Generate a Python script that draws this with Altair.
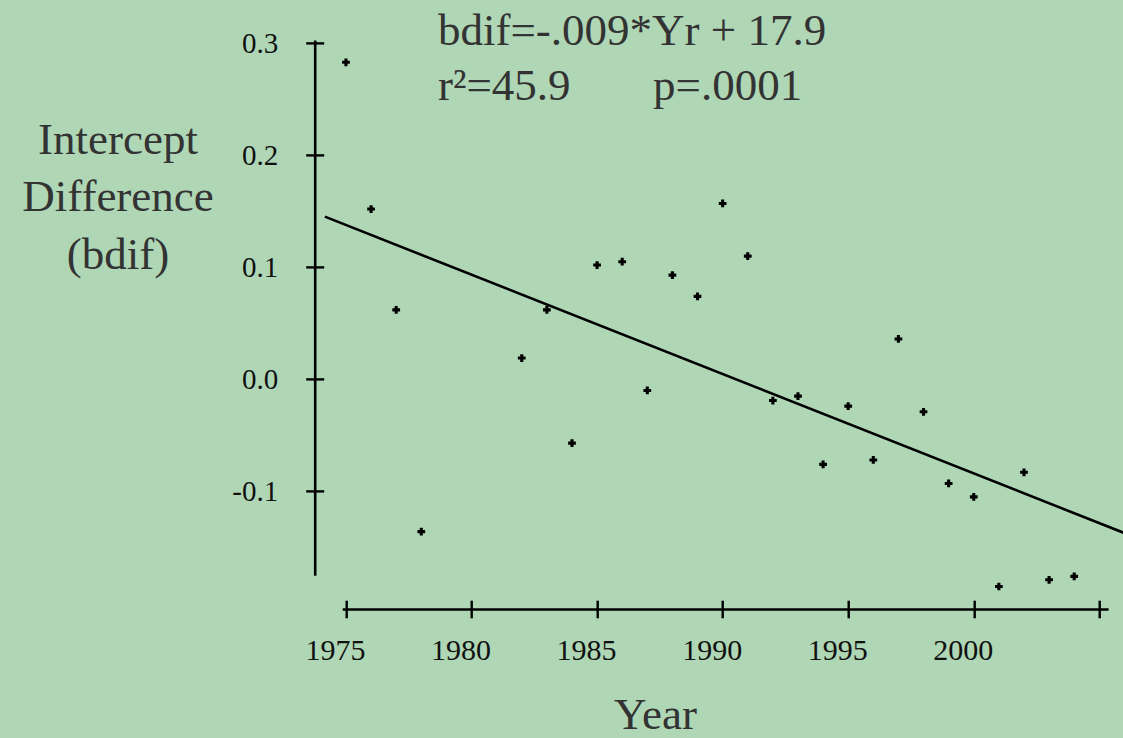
import altair as alt
import pandas as pd

# ---- data ----
years = [1975, 1976, 1977, 1978, 1982, 1983, 1984, 1985, 1986, 1987, 1988, 1989,
         1990, 1991, 1992, 1993, 1994, 1995, 1996, 1997, 1998, 1999, 2000, 2001,
         2002, 2003, 2004]
bdif = [0.283, 0.152, 0.062, -0.136, 0.019, 0.062, -0.057, 0.102, 0.105, -0.010,
        0.093, 0.074, 0.157, 0.110, -0.019, -0.015, -0.076, -0.024, -0.072, 0.036,
        -0.029, -0.093, -0.105, -0.185, -0.083, -0.179, -0.176]

fit_years = [1974.16, 2006.0]
fit_values = [0.1452, -0.1373]

x_ticks = [1975, 1980, 1985, 1990, 1995, 2000, 2005]
y_ticks = [-0.1, 0.0, 0.1, 0.2, 0.3]

eq_text = "bdif=-.009*Yr + 17.9"
r2_text = "r\u00b2=45.9"
p_text = "p=.0001"
y_title = ["Intercept", "Difference", "(bdif)"]
x_title = "Year"

# ---- layout ----
W, H = 765.9, 535.4
LEFT, TOP = 342.2, 39.9
FONT = "Liberation Serif"
BIG = 45

pts = pd.DataFrame({"year": years, "bdif": bdif})
fit = pd.DataFrame({"year": fit_years, "bdif": fit_values})

xscale = alt.Scale(domain=[1974.85, 2005.35], nice=False, zero=False)
yscale = alt.Scale(domain=[-0.175, 0.303], nice=False, zero=False)

points = alt.Chart(pts).mark_point(
    shape="cross", filled=True, size=60, color="black", opacity=1, clip=False
).encode(
    x=alt.X("year:Q", scale=xscale, axis=alt.Axis(
        orient="bottom", offset=24.9, domain=False, grid=False,
        values=x_ticks, tickSize=17.6, tickWidth=2.4, tickColor="black",
        labelExpr="datum.value == 2005 ? '' : format(datum.value, 'd')",
        labelFont=FONT, labelFontSize=30, labelColor="#111111",
        labelOffset=-11, labelPadding=18, labelFlush=False, labelOverlap=False,
        title=None)),
    y=alt.Y("bdif:Q", scale=yscale, axis=alt.Axis(
        orient="left", offset=18.5, domain=False, grid=False,
        values=y_ticks, tickSize=18, tickWidth=2.4, tickColor="black",
        labelExpr="datum.value < 0 ? '-' + format(-datum.value, '.1f') : format(datum.value, '.1f')",
        labelFont=FONT, labelFontSize=29, labelColor="#111111",
        labelPadding=28, labelFlush=False, labelOverlap=False,
        title=y_title, titleAngle=0, titleAlign="center", titleBaseline="alphabetic",
        titleX=-206.2, titleY=113.4, titleLineHeight=57.5,
        titleFont=FONT, titleFontSize=BIG, titleFontWeight="normal", titleColor="#333333")),
)

line = alt.Chart(fit).mark_line(color="black", strokeWidth=2.6, clip=False).encode(
    x=alt.X("year:Q", scale=xscale, axis=alt.Axis(
        orient="top", offset=-(H + 33.7), domain=True, domainColor="black", domainWidth=2.6,
        ticks=False, labels=False, grid=False,
        title=x_title, titleAngle=0, titleAlign="center", titleBaseline="alphabetic",
        titleX=312.8, titleY=119, titleFont=FONT, titleFontSize=BIG,
        titleFontWeight="normal", titleColor="#333333")),
    y=alt.Y("bdif:Q", scale=yscale, axis=alt.Axis(
        orient="right", offset=-(W + 27.5), domain=True, domainColor="black", domainWidth=2.6,
        ticks=False, labels=False, grid=False, title=None)),
)

def note(txt, px, py):
    return alt.Chart(alt.Data(values=[{"label": txt}])).mark_text(
        align="left", baseline="alphabetic", font=FONT, fontSize=BIG,
        color="#333333", clip=False
    ).encode(text="label:N", x=alt.value(px), y=alt.value(py))

chart = alt.layer(
    line, points,
    note(eq_text, 438 - LEFT, 45 - TOP),
    note(r2_text, 438 - LEFT, 100 - TOP),
    note(p_text, 653 - LEFT, 100 - TOP),
).resolve_axis(x="independent", y="independent").properties(
    width=W, height=H,
    autosize=alt.AutoSizeParams(type="none"),
    padding={"left": LEFT, "top": TOP, "right": 1123 - LEFT - W, "bottom": 738 - TOP - H},
    background="#afd7b5",
).configure_view(stroke=None)

chart.save("out.html", embed_options={"renderer": "svg", "actions": False})
